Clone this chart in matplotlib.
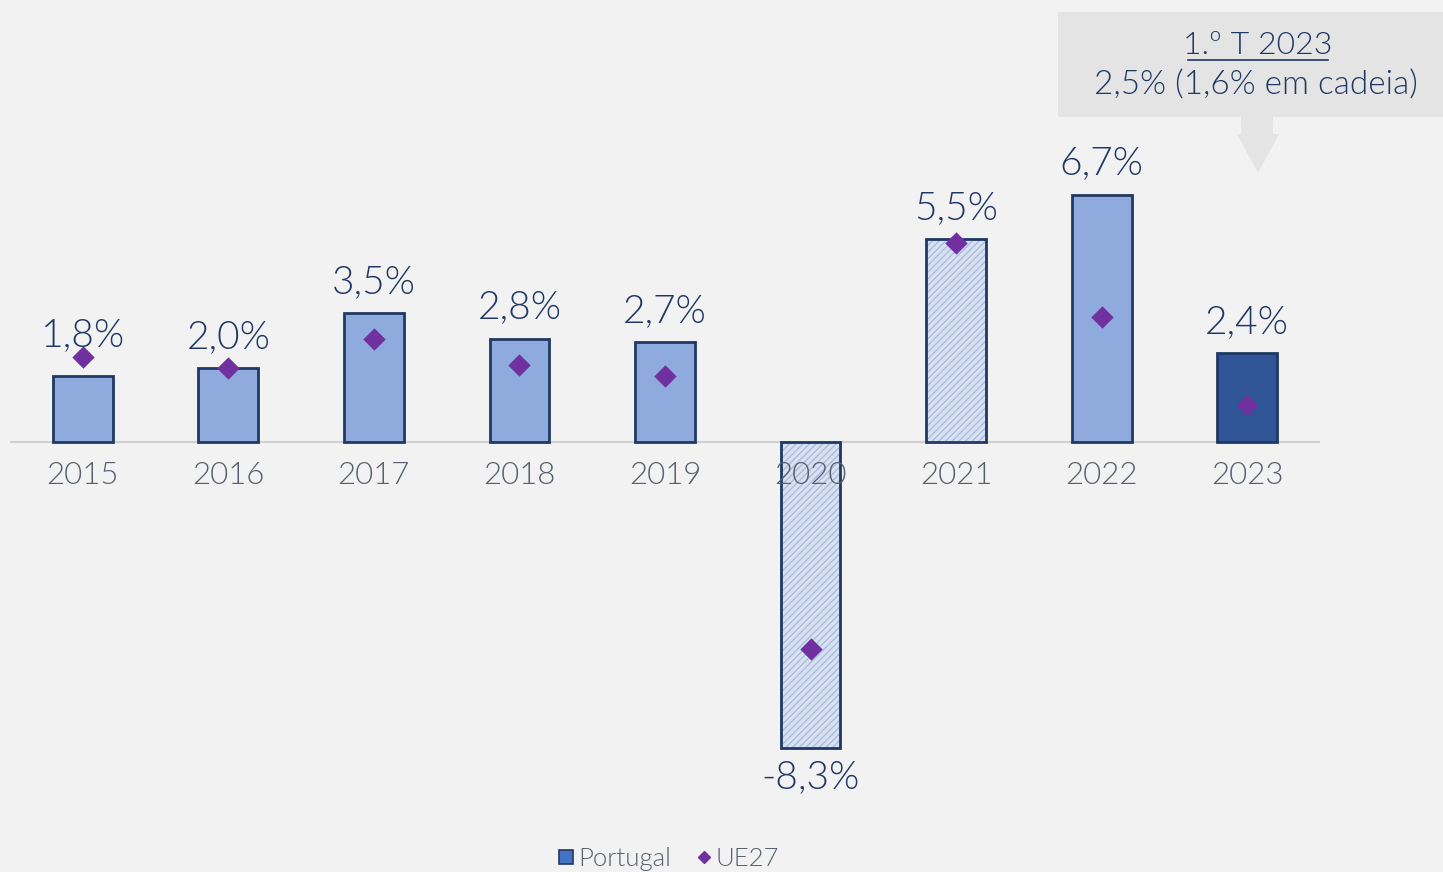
import matplotlib
matplotlib.use("Agg")
import matplotlib.pyplot as plt
from matplotlib.patches import Rectangle
from matplotlib.lines import Line2D
import numpy as np

years = ["2015", "2016", "2017", "2018", "2019", "2020", "2021", "2022", "2023"]
portugal = [1.8, 2.0, 3.5, 2.8, 2.7, -8.3, 5.5, 6.7, 2.4]
ue27 = [2.3, 2.0, 2.8, 2.1, 1.8, -5.6, 5.4, 3.4, 1.0]
labels = ["1,8%", "2,0%", "3,5%", "2,8%", "2,7%", "-8,3%", "5,5%", "6,7%", "2,4%"]
hatched = ["2020", "2021"]
highlight = ["2023"]
note_title = "1.º T 2023"
note_text = "2,5% (1,6% em cadeia)"

plt.rcParams['font.family'] = ['Lato', 'DejaVu Sans']
plt.rcParams['font.weight'] = 300
BG = "#F2F2F2"
NAVY = "#1F3864"
LIGHT = "#8FAADC"
DARK = "#2F5597"
PURPLE = "#7030A0"
GRAY = "#56606F"

W, H = 1443, 872
fig = plt.figure(figsize=(W / 100, H / 100), dpi=100, facecolor=BG)
ax = fig.add_axes([10 / W, 1 - 830 / H, 1310 / W, 830 / H])
ax.set_facecolor(BG)
ax.set_xlim(-0.5, 8.5)
scale = 36.9
ax.set_ylim(-(830 - 442) / scale, 442 / scale)
for s in ax.spines.values():
    s.set_visible(False)
ax.set_xticks([])
ax.set_yticks([])

x = np.arange(len(years))
bw = 0.41
for i, (yr, v) in enumerate(zip(years, portugal)):
    if yr in hatched:
        ax.bar(i, v, width=bw, color="#D9E0EE", edgecolor="#A9BDE5", hatch="/////", linewidth=0, zorder=2)
        ax.bar(i, v, width=bw, fill=False, edgecolor=NAVY, linewidth=2, zorder=3)
    else:
        fc = DARK if yr in highlight else LIGHT
        ax.bar(i, v, width=bw, color=fc, edgecolor=NAVY, linewidth=2, zorder=3)

ax.axhline(0, color="#D0D0D0", linewidth=1.5, zorder=1)

ax.scatter(x, ue27, marker="D", s=130, color=PURPLE, zorder=5, linewidths=0)

for i, (v, lab) in enumerate(zip(portugal, labels)):
    if v >= 0:
        off = 29.5 if i == 0 else 22.5
        ax.annotate(lab, (i, v), xytext=(0, off), textcoords="offset points",
                    ha="center", va="center", fontsize=28, color=NAVY)
    else:
        ax.annotate(lab, (i, v), xytext=(0, -21), textcoords="offset points",
                    ha="center", va="center", fontsize=28, color=NAVY)
    ax.annotate(years[i], (i, 0), xytext=(0, -24), textcoords="offset points",
                ha="center", va="center", fontsize=22.5, color=GRAY, zorder=6)

# annotation box
fig.patches.append(Rectangle((1058 / W, 1 - 117 / H), (W - 1058) / W, 105 / H,
                             transform=fig.transFigure, facecolor="#E4E4E4",
                             edgecolor="none", zorder=0))
fig.patches.append(plt.Polygon([[1241 / W, 1 - 117 / H], [1273 / W, 1 - 117 / H],
                                [1273 / W, 1 - 134 / H], [1279 / W, 1 - 134 / H],
                                [1258 / W, 1 - 173 / H], [1237 / W, 1 - 134 / H],
                                [1241 / W, 1 - 134 / H]],
                               closed=True, transform=fig.transFigure,
                               facecolor="#E4E4E4", edgecolor="none", zorder=0))
fig.text(1258 / W, 1 - 45 / H, note_title, ha="center", va="center", fontsize=23, color=NAVY)
fig.add_artist(Line2D([1188 / W, 1328 / W], [1 - 60 / H, 1 - 60 / H],
                      transform=fig.transFigure, color=NAVY, linewidth=1.2))
fig.text(1256 / W, 1 - 85 / H, note_text, ha="center", va="center", fontsize=24, color=NAVY)

# legend
handles = [Line2D([], [], marker="s", linestyle="none", markersize=10,
                  markerfacecolor="#4472C4", markeredgecolor=NAVY, markeredgewidth=1.2),
           Line2D([], [], marker="D", linestyle="none", markersize=6.5,
                  markerfacecolor=PURPLE, markeredgecolor=PURPLE)]
leg = fig.legend(handles, ["Portugal", "UE27"], loc="center", bbox_to_anchor=(669 / W, 1 - 859 / H),
                 ncol=2, frameon=False, fontsize=18.5, handlelength=0.6, handletextpad=0.15,
                 columnspacing=1.0, labelcolor=GRAY, borderpad=0.1)

fig.savefig("out.png", dpi=100, facecolor=BG)
